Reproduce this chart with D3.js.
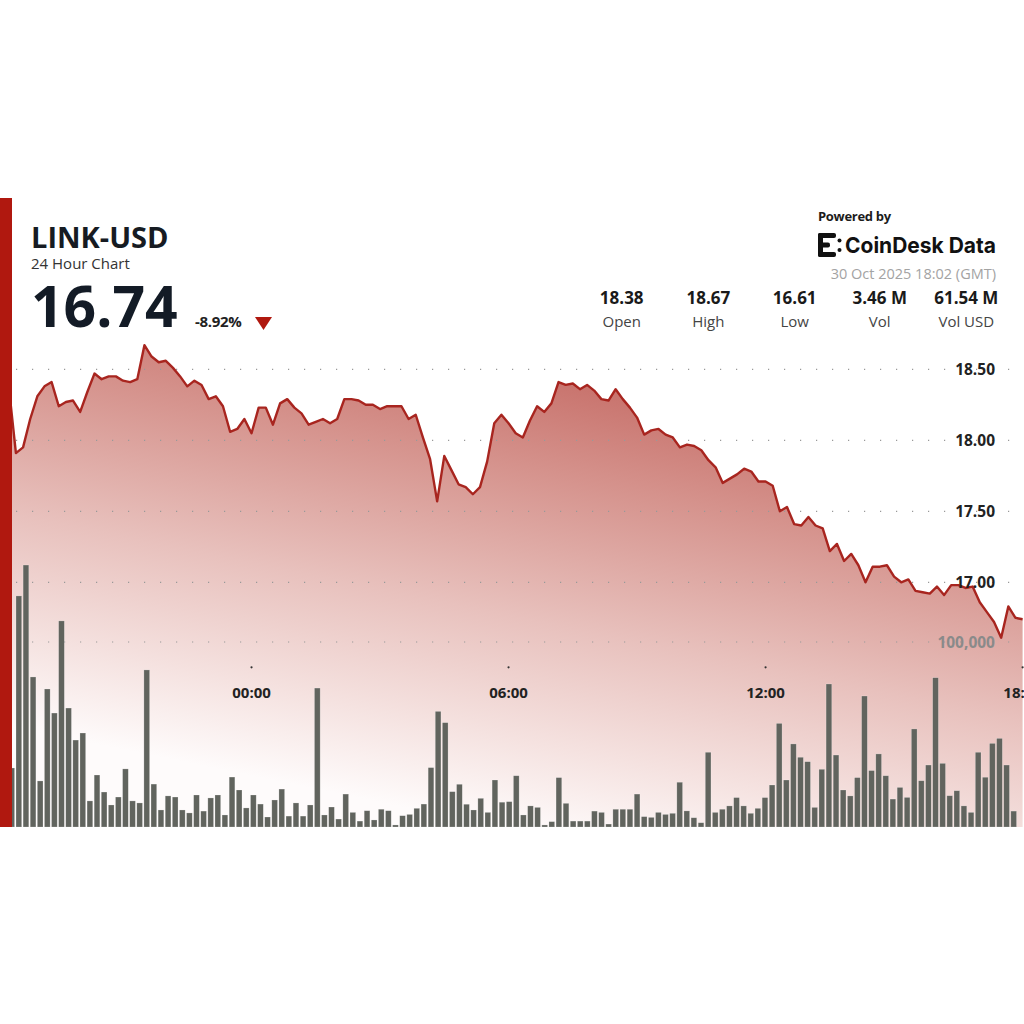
<!DOCTYPE html>
<html>
<head>
<meta charset="utf-8">
<script src="https://cdn.jsdelivr.net/npm/d3@7"></script>
<style>
	body { margin: 0; background: #fff; }
	svg { display: block; font-family: "Open Sans", "Noto Sans", sans-serif; }
</style>
</head>
<body>
<svg id="chart" width="1024" height="1024"></svg>
<script>
"use strict";

// 10 minute closes, first one at 18:20 GMT on 29 Oct
var prices = [
	18.38, 17.91, 17.95, 18.15, 18.31, 18.38, 18.41, 18.24, 18.27, 18.28,
	18.20, 18.34, 18.47, 18.43, 18.45, 18.45, 18.42, 18.41, 18.43, 18.67,
	18.59, 18.55, 18.56, 18.51, 18.45, 18.38, 18.42, 18.39, 18.29, 18.31,
	18.24, 18.06, 18.08, 18.15, 18.05, 18.23, 18.23, 18.11, 18.26, 18.29,
	18.23, 18.19, 18.11, 18.13, 18.15, 18.12, 18.15, 18.29, 18.29, 18.28,
	18.25, 18.25, 18.22, 18.24, 18.24, 18.24, 18.15, 18.18, 18.02, 17.87,
	17.57, 17.89, 17.79, 17.69, 17.67, 17.62, 17.67, 17.85, 18.12, 18.18,
	18.12, 18.05, 18.02, 18.14, 18.24, 18.20, 18.26, 18.41, 18.39, 18.40,
	18.36, 18.39, 18.35, 18.29, 18.28, 18.36, 18.29, 18.23, 18.16, 18.04,
	18.07, 18.08, 18.04, 18.02, 17.95, 17.97, 17.96, 17.93, 17.86, 17.81,
	17.70, 17.73, 17.76, 17.80, 17.78, 17.71, 17.71, 17.68, 17.50, 17.53,
	17.41, 17.40, 17.46, 17.40, 17.38, 17.22, 17.27, 17.15, 17.20, 17.12,
	17.00, 17.11, 17.11, 17.12, 17.04, 17.00, 17.02, 16.94, 16.93, 16.92,
	16.97, 16.91, 16.98, 16.98, 16.96, 16.97, 16.86, 16.79, 16.72, 16.61,
	16.83, 16.75, 16.74
];

// 10 minute volumes (LINK), same start
var volumes = [
	31900, 124900, 141600, 81100, 24900, 74600, 61600, 111400, 64300, 47000,
	50800, 14100, 28100, 18900, 11900, 16200, 31400, 14100, 13000, 84900,
	23200, 9200, 16800, 16200, 9200, 7600, 17300, 8600, 15700, 17300,
	6500, 27000, 20000, 10300, 17300, 12400, 5400, 14600, 20500, 5900,
	13000, 5900, 11900, 75100, 6500, 10800, 4300, 17800, 7900, 3200,
	8800, 3800, 9600, 8800, 1100, 6100, 6800, 10100, 12400, 32100,
	62500, 56400, 19100, 23100, 12300, 9200, 15500, 7900, 25400, 13400,
	13700, 27700, 6500, 11400, 10600, 1100, 2900, 26700, 12800, 3200,
	3200, 3200, 8600, 7900, 1600, 9600, 9600, 9600, 17800, 5600,
	5200, 7900, 6800, 7400, 24200, 8700, 5000, 2300, 40400, 7900,
	9600, 11400, 15900, 11400, 7400, 10100, 15900, 22700, 56000, 25400,
	44900, 37700, 35300, 10600, 31200, 77300, 38900, 20000, 16800, 26700,
	70800, 30500, 39500, 27700, 15100, 21400, 16000, 53000, 25000, 33500,
	80700, 34400, 16900, 19600, 11400, 7900, 40400, 26900, 45200, 47900,
	33500, 8600
];

var priceTicks = [17.00, 17.50, 18.00, 18.50];
var volumeTicks = [100000];
var timeTicks = ["00:00", "06:00", "12:00", "18:00"];
var statValues = ["18.38", "18.67", "16.61", "3.46 M", "61.54 M"];
var statLabels = ["Open", "High", "Low", "Vol", "Vol USD"];

var startTime = Date.UTC(2025, 9, 29, 18, 20);
var stepMs = 10 * 60 * 1000;

var svg = d3.select("#chart");

var chartTop = 198, chartBottom = 827;

// scales
var x = d3.scaleUtc()
	.domain([new Date(Date.UTC(2025, 9, 29, 18, 0)), new Date(Date.UTC(2025, 9, 30, 18, 0))])
	.range([-5.5, 1022.6]);

var yPrice = d3.scaleLinear()
	.domain([17, 18.5])
	.range([582.3, 369.3]);

var yVol = d3.scaleLinear()
	.domain([0, 100000])
	.range([chartBottom, 642]);

var xBar = d3.scaleBand()
	.domain(d3.range(volumes.length))
	.range([8.9, 8.9 + volumes.length * 7.106])
	.paddingInner(0.2)
	.paddingOuter(0.1)
	.align(0);

var points = prices.map(function(p, i) {
	return {t: new Date(startTime + i * stepMs), p: p};
});

// gradient for the area under the price line
var defs = svg.append("defs");
var grad = defs.append("linearGradient")
	.attr("id", "areaGrad")
	.attr("gradientUnits", "userSpaceOnUse")
	.attr("x1", 600).attr("y1", 340)
	.attr("x2", 500).attr("y2", chartBottom);
[
	[0, "#c2645e"],
	[0.28, "#d5928c"],
	[0.58, "#e8c1bd"],
	[0.82, "#f5e2e0"],
	[1, "#fefbfb"]
].forEach(function(s) {
	grad.append("stop").attr("offset", s[0]).attr("stop-color", s[1]);
});

var clip = defs.append("clipPath").attr("id", "plotClip");
clip.append("rect")
	.attr("x", 12).attr("y", chartTop)
	.attr("width", 1012).attr("height", chartBottom - chartTop);

var plot = svg.append("g").attr("clip-path", "url(#plotClip)");

// area
plot.append("path")
	.datum(points)
	.attr("fill", "url(#areaGrad)")
	.attr("d", d3.area()
		.x(function(d) { return x(d.t); })
		.y0(chartBottom)
		.y1(function(d) { return yPrice(d.p); }));

// dotted grid lines (price and volume)
var gridYs = priceTicks.map(function(v) { return yPrice(v); })
	.concat(volumeTicks.map(function(v) { return yVol(v); }));

plot.selectAll("line.grid")
	.data(gridYs)
	.enter().append("line")
	.attr("class", "grid")
	.attr("x1", 16).attr("x2", 1024)
	.attr("y1", function(d) { return d; })
	.attr("y2", function(d) { return d; })
	.attr("stroke", "#999")
	.attr("stroke-width", 1.2)
	.attr("stroke-dasharray", "1.2,14.8");

// volume bars
plot.selectAll("rect.vol")
	.data(volumes)
	.enter().append("rect")
	.attr("class", "vol")
	.attr("x", function(d, i) { return xBar(i); })
	.attr("width", xBar.bandwidth())
	.attr("y", function(d) { return yVol(d); })
	.attr("height", function(d) { return chartBottom - yVol(d); })
	.attr("fill", "#61645e")
	.attr("stroke", "rgba(255,255,255,0.35)")
	.attr("stroke-width", 0.6);

// price line
plot.append("path")
	.datum(points)
	.attr("fill", "none")
	.attr("stroke", "#a8251f")
	.attr("stroke-width", 2.4)
	.attr("stroke-linejoin", "round")
	.attr("d", d3.line()
		.x(function(d) { return x(d.t); })
		.y(function(d) { return yPrice(d.p); }));

// axis labels on the right
var axisG = svg.append("g");
axisG.selectAll("text.price")
	.data(priceTicks)
	.enter().append("text")
	.attr("x", 995)
	.attr("y", function(d) { return yPrice(d); })
	.attr("dy", "0.36em")
	.attr("text-anchor", "end")
	.style("font-size", "15.5px")
	.style("font-weight", 700)
	.attr("fill", "#222")
	.text(function(d) { return d3.format(".2f")(d); });

axisG.selectAll("text.vol")
	.data(volumeTicks)
	.enter().append("text")
	.attr("x", 995)
	.attr("y", function(d) { return yVol(d); })
	.attr("dy", "0.36em")
	.attr("text-anchor", "end")
	.style("font-size", "15.5px")
	.style("font-weight", 700)
	.attr("fill", "#8a8a8a")
	.text(function(d) { return d3.format(",")(d); });

// time axis: small dot and label
var tickTimes = timeTicks.map(function(s) { return new Date("2025-10-30T" + s + ":00Z"); });
var tG = svg.selectAll("g.tick")
	.data(tickTimes)
	.enter().append("g")
	.attr("class", "tick")
	.attr("transform", function(d) { return "translate(" + x(d) + ",0)"; });
tG.append("circle")
	.attr("cy", 667.3).attr("r", 1.1)
	.attr("fill", "#333");
tG.append("text")
	.attr("y", 698)
	.attr("text-anchor", "middle")
	.style("font-size", "15px")
	.style("font-weight", 700)
	.attr("fill", "#222")
	.text(function(d, i) { return timeTicks[i]; });

// red bar on the left
svg.append("rect")
	.attr("x", 0).attr("y", chartTop)
	.attr("width", 12).attr("height", chartBottom - chartTop)
	.attr("fill", "#b0180f");

// header, left
svg.append("text")
	.attr("x", 31).attr("y", 248)
	.style("font-size", "29px").style("font-weight", 700)
	.attr("fill", "#161b22")
	.text("LINK-USD");
svg.append("text")
	.attr("x", 31).attr("y", 269)
	.style("font-size", "15px")
	.attr("fill", "#333")
	.text("24 Hour Chart");
svg.append("text")
	.attr("x", 31).attr("y", 327)
	.style("font-size", "57px").style("font-weight", 700)
	.attr("fill", "#131b26")
	.text("16.74");
svg.append("text")
	.attr("x", 195).attr("y", 327)
	.style("font-size", "15px").style("font-weight", 700)
	.style("letter-spacing", "-0.3px")
	.attr("fill", "#222")
	.text("-8.92%");
svg.append("path")
	.attr("d", "M255,317L272,317L263.5,330Z")
	.attr("fill", "#b0180f");

// header, right
svg.append("text")
	.attr("x", 818).attr("y", 221)
	.style("font-size", "13px").style("font-weight", 700)
	.style("letter-spacing", "-0.3px")
	.attr("fill", "#1c1c1c")
	.text("Powered by");

// CoinDesk mark, rough
var logo = svg.append("g").attr("fill", "#111");
logo.append("rect").attr("x", 818).attr("y", 233).attr("width", 5).attr("height", 24).attr("rx", 2);
logo.append("rect").attr("x", 818).attr("y", 233).attr("width", 18).attr("height", 5).attr("rx", 2);
logo.append("rect").attr("x", 818).attr("y", 252).attr("width", 18).attr("height", 5).attr("rx", 2);
logo.append("rect").attr("x", 818).attr("y", 242.5).attr("width", 12).attr("height", 5).attr("rx", 2);
logo.append("circle").attr("cx", 839.5).attr("cy", 240.5).attr("r", 2);
logo.append("circle").attr("cx", 839.5).attr("cy", 250).attr("r", 2);
svg.append("text")
	.attr("x", 845).attr("y", 253)
	.attr("textLength", 151)
	.attr("lengthAdjust", "spacingAndGlyphs")
	.style("font-family", "Inter, 'Open Sans', sans-serif")
	.style("font-size", "22px").style("font-weight", 700)
	.attr("fill", "#111")
	.text("CoinDesk Data");

svg.append("text")
	.attr("x", 996).attr("y", 279)
	.attr("text-anchor", "end")
	.style("font-size", "14.5px")
	.attr("fill", "#a3a3a3")
	.text("30 Oct 2025 18:02 (GMT)");

var statX = [621.7, 708.3, 794.7, 879.7, 966.3];
var stats = svg.selectAll("g.stat")
	.data(statValues)
	.enter().append("g")
	.attr("class", "stat")
	.attr("transform", function(d, i) { return "translate(" + statX[i] + ",0)"; });
stats.append("text")
	.attr("y", 304)
	.attr("text-anchor", "middle")
	.style("font-size", "17px").style("font-weight", 700)
	.attr("fill", "#1a1a1a")
	.text(function(d) { return d; });
stats.append("text")
	.attr("y", 327)
	.attr("text-anchor", "middle")
	.style("font-size", "15px")
	.attr("fill", "#444")
	.text(function(d, i) { return statLabels[i]; });
</script>
</body>
</html>
